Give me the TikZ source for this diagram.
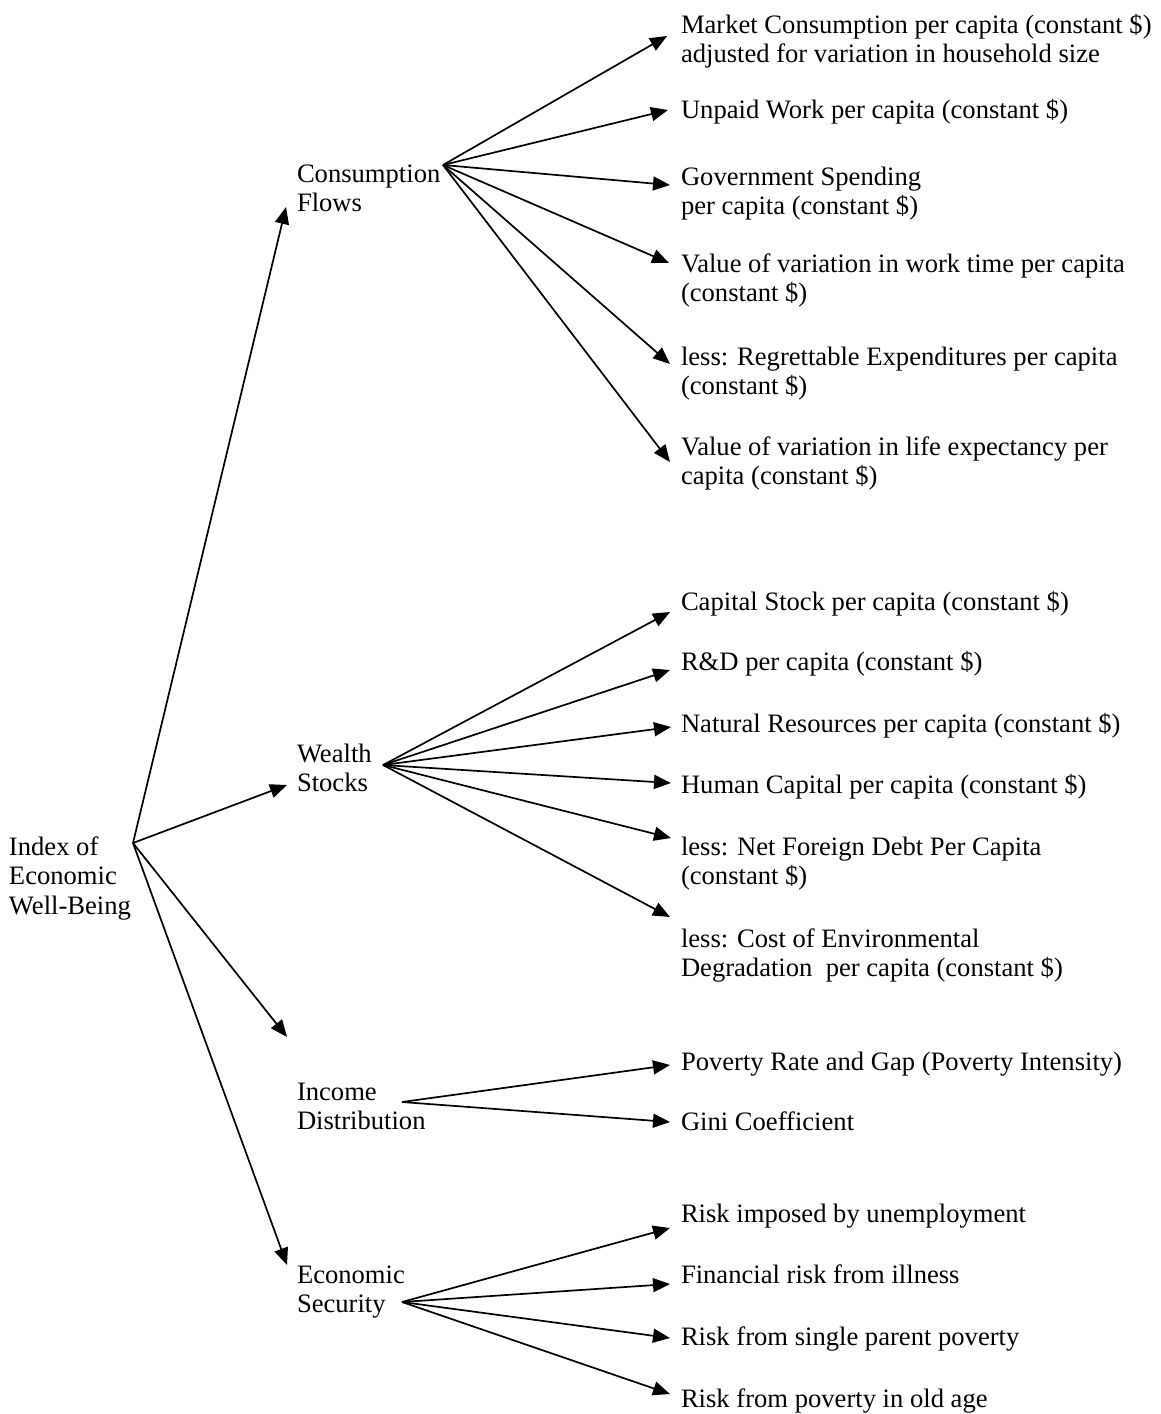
\documentclass[tikz,border=0pt]{standalone}
\usepackage{fontspec}
\setmainfont{Liberation Serif}
\usetikzlibrary{arrows.meta}
\newcommand{\mytwo}[2]{\vtop{\hbox{\strut #1}\hbox{\strut #2}}}
\newcommand{\mythree}[3]{\vtop{\hbox{\strut #1}\hbox{\strut #2}\hbox{\strut #3}}}
\begin{document}
\begin{tikzpicture}[x=0.5pt,y=-0.5pt,
  lbl/.style={anchor=base west,inner sep=0pt,outer sep=0pt,font=\fontsize{13.3pt}{14.8pt}\selectfont},
  arr/.style={line width=0.85pt,-{Triangle[length=8.5pt,width=7pt]}}]
\useasboundingbox (0,0) rectangle (1161,1414);
\fill[white] (0,0) rectangle (1161,1414);
% labels
\node[lbl] (root) at (9,855) {\mythree{Index of}{Economic}{Well-Being}};
\node[lbl] (cf) at (297,182) {\mytwo{Consumption}{Flows}};
\node[lbl] (ws) at (297,762) {\mytwo{Wealth}{Stocks}};
\node[lbl] (id) at (297,1100) {\mytwo{Income}{Distribution}};
\node[lbl] (es) at (297,1283) {\mytwo{Economic}{Security}};
% consumption items
\node[lbl] (c1) at (681,33) {\mytwo{Market Consumption per capita (constant \$)}{adjusted for variation in household size}};
\node[lbl] (c2) at (681,118) {Unpaid Work per capita (constant \$)};
\node[lbl] (c3) at (681,185) {\mytwo{Government Spending}{per capita (constant \$)}};
\node[lbl] (c4) at (681,272) {\mytwo{Value of variation in work time per capita}{(constant \$)}};
\node[lbl] (c5) at (681,365) {\mytwo{less: Regrettable Expenditures per capita}{(constant \$)}};
\node[lbl] (c6) at (681,455) {\mytwo{Value of variation in life expectancy per}{capita (constant \$)}};
% wealth items
\node[lbl] (w1) at (681,610) {Capital Stock per capita (constant \$)};
\node[lbl] (w2) at (681,670) {R\&D per capita (constant \$)};
\node[lbl] (w3) at (681,732) {Natural Resources per capita (constant \$)};
\node[lbl] (w4) at (681,793) {Human Capital per capita (constant \$)};
\node[lbl] (w5) at (681,855) {\mytwo{less: Net Foreign Debt Per Capita}{(constant \$)}};
\node[lbl] (w6) at (681,947) {\mytwo{less: Cost of Environmental}{Degradation \ per capita (constant \$)}};
% income items
\node[lbl] (i1) at (681,1070) {Poverty Rate and Gap (Poverty Intensity)};
\node[lbl] (i2) at (681,1130) {Gini Coefficient};
% security items
\node[lbl] (s1) at (681,1222) {Risk imposed by unemployment};
\node[lbl] (s2) at (681,1283) {Financial risk from illness};
\node[lbl] (s3) at (681,1345) {Risk from single parent poverty};
\node[lbl] (s4) at (681,1407) {Risk from poverty in old age};
% fan points
\coordinate (R) at (133,843);
\coordinate (C) at (443,165);
\coordinate (W) at (383,765);
\coordinate (I) at (402,1102);
\coordinate (S) at (402,1302);
% tips
\coordinate (tcf) at (286,207);
\coordinate (tws) at (287,785);
\coordinate (tid) at (287,1037);
\coordinate (tes) at (287,1265);
\coordinate (tc1) at (667,36);
\coordinate (tc2) at (668,110);
\coordinate (tc3) at (670,185);
\coordinate (tc4) at (669,263);
\coordinate (tc5) at (670,364);
\coordinate (tc6) at (670,462);
\coordinate (tw1) at (670,612);
\coordinate (tw2) at (670,670);
\coordinate (tw3) at (671,727);
\coordinate (tw4) at (671,783);
\coordinate (tw5) at (671,838);
\coordinate (tw6) at (670,917);
\coordinate (ti1) at (670,1065);
\coordinate (ti2) at (670,1122);
\coordinate (ts1) at (670,1228);
\coordinate (ts2) at (670,1284);
\coordinate (ts3) at (670,1338);
\coordinate (ts4) at (670,1394);
% connectors
\foreach \t in {tcf,tws,tid,tes} \draw[arr] (R) -- (\t);
\foreach \t in {tc1,tc2,tc3,tc4,tc5,tc6} \draw[arr] (C) -- (\t);
\foreach \t in {tw1,tw2,tw3,tw4,tw5,tw6} \draw[arr] (W) -- (\t);
\foreach \t in {ti1,ti2} \draw[arr] (I) -- (\t);
\foreach \t in {ts1,ts2,ts3,ts4} \draw[arr] (S) -- (\t);
\end{tikzpicture}
\end{document}
